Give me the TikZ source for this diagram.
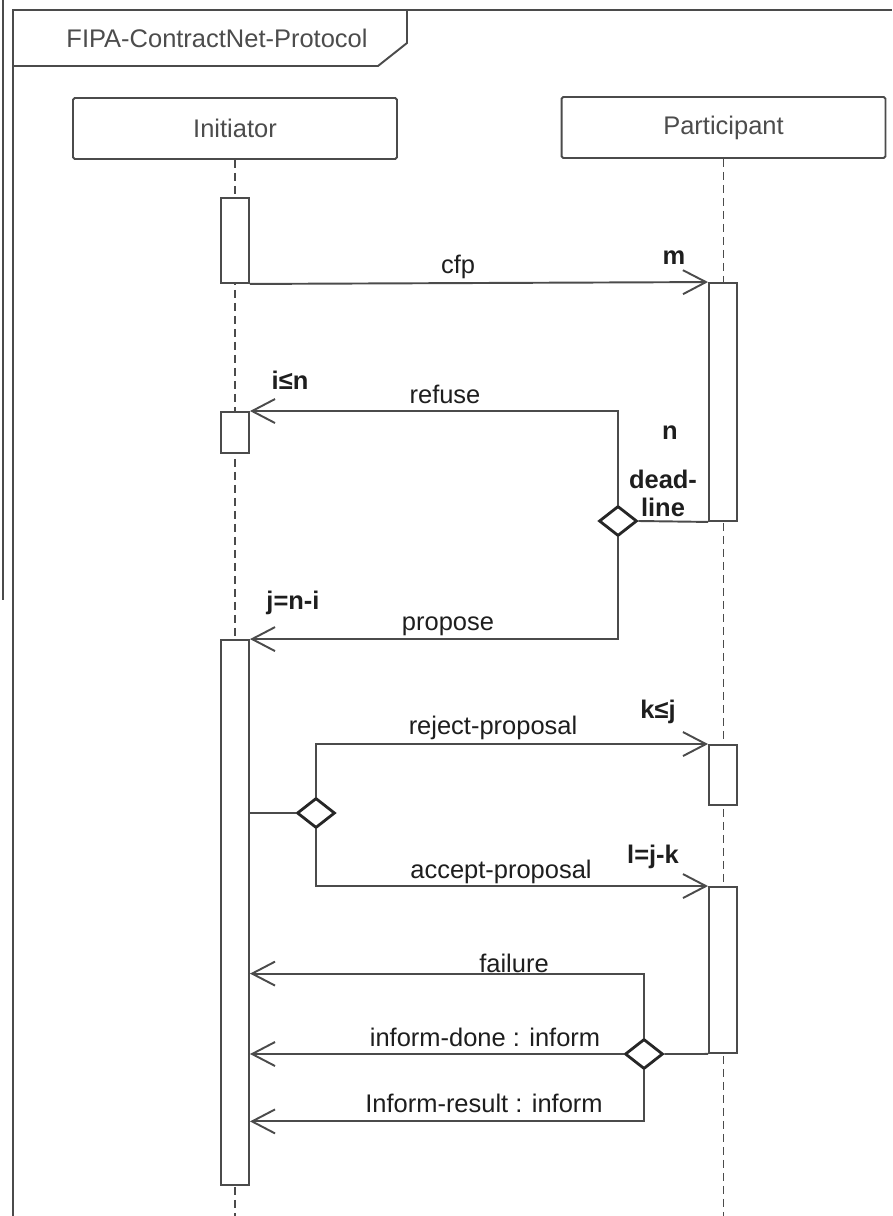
\documentclass[tikz,border=0pt]{standalone}
\usepackage{fontspec}
\setmainfont{Liberation Sans}
\usetikzlibrary{shapes.geometric, arrows.meta}
\definecolor{linegray}{RGB}{75,75,75}
\definecolor{textgray}{RGB}{30,30,30}

\begin{document}
\begin{tikzpicture}[
  x=0.02cm, y=-0.02cm,
  every node/.style = {font=\fontsize{14.5}{17}\selectfont, text=textgray},
  role/.style = {
    rectangle, rounded corners=1pt,
    draw=linegray, line width=1.1pt, text=black!70,
    minimum width=6.48cm, minimum height=1.22cm
  },
  act/.style = {rectangle, draw=linegray, fill=white, line width=1.1pt,
    minimum width=0.56cm, inner sep=0pt},
  dec/.style = {diamond, draw=black!85, fill=white, line width=1.6pt,
    minimum width=0.76cm, minimum height=0.6cm, inner sep=0pt},
  msg/.style = {-{Straight Barb[length=0.46cm, width=0.48cm]}, draw=linegray, line width=1.1pt},
  lnk/.style = {draw=linegray, line width=1.1pt},
  life/.style = {draw=linegray, line width=0.85pt, dash pattern=on 0.16cm off 0.1cm},
  card/.style = {font=\fontsize{14.5}{16}\selectfont\bfseries, inner sep=1pt, align=center},
  lbl/.style = {inner sep=1pt}
]
\useasboundingbox (0,0) rectangle (892,1216);

% ---- FRAME + TITLE TAB ----
\draw[draw=linegray, line width=0.9pt] (3,0) -- (3,600);
\draw[lnk] (13,1216) -- (13,10) -- (892,10);
\draw[lnk] (13,66) -- (378,66) -- (407,43) -- (407,10);
\node[text=black!70] (title) at (217,38) {FIPA-ContractNet-Protocol};

% ---- ROLES + LIFELINES ----
\node[role] (ini) at (235,128.5) {Initiator};
\node[role] (par) at (723.5,127.5) {Participant};
\coordinate (bot) at (0,1216);
\draw[life] (ini.south) -- (ini.south |- bot);
\draw[life] (par.south) -- (par.south |- bot);

% ---- ACTIVATION BARS ----
\node[act, minimum height=1.7cm]  (a1) at (235,240.5) {};
\node[act, minimum height=0.82cm] (a2) at (235,432.5) {};
\node[act, minimum height=10.9cm] (a3) at (235,912.5) {};
\node[act, minimum height=4.76cm] (b1) at (723,402) {};
\node[act, minimum height=1.2cm]  (b2) at (723,775) {};
\node[act, minimum height=3.32cm] (b3) at (723,970) {};

% ---- DECISIONS ----
\node[dec] (d1) at (618,521) {};
\node[dec] (d2) at (316,813) {};
\node[dec] (d3) at (644,1054) {};

% ---- cfp / refuse / propose ----
\draw[msg] (a1.south east) -- (b1.north west);
\node[lbl] at (458,267) {cfp};
\node[card] at (674,258) {m};

\draw[lnk] (b1.south west) -- (d1.east);
\node[card] at (670,433) {n};
\node[card] at (663,493) {dead-\\line};

\draw[msg] (d1.north) |- (a2.north east);
\node[lbl] at (445,394) {refuse};
\node[card] at (290,380) {i≤n};

\draw[msg] (d1.south) |- (a3.north east);
\node[lbl] at (448,626) {propose};
\node[card] at (293,603) {j=n-i};

% ---- reject / accept ----
\draw[lnk] (a3.east |- d2.west) -- (d2.west);
\draw[msg] (d2.north) |- (b2.north west);
\node[lbl] at (493,728) {reject-proposal};
\node[card] at (658,712) {k≤j};

\draw[msg] (d2.south) |- (b3.north west);
\node[lbl] at (501,872) {accept-proposal};
\node[card] at (653,857) {l=j-k};

% ---- failure / inform ----
\draw[lnk] (b3.south west) -- (d3.east);
\draw[msg] (d3.north) -- ++(0,-64) coordinate (fl) -- (fl -| a3.east);
\node[lbl] at (514,963) {failure};

\draw[msg] (d3.west) -- (d3.west -| a3.east);
\node[lbl] at (485,1037) {inform-done : inform};

\draw[msg] (d3.south) -- ++(0,51) coordinate (rl) -- (rl -| a3.east);
\node[lbl] at (484,1103) {Inform-result : inform};

\end{tikzpicture}
\end{document}
